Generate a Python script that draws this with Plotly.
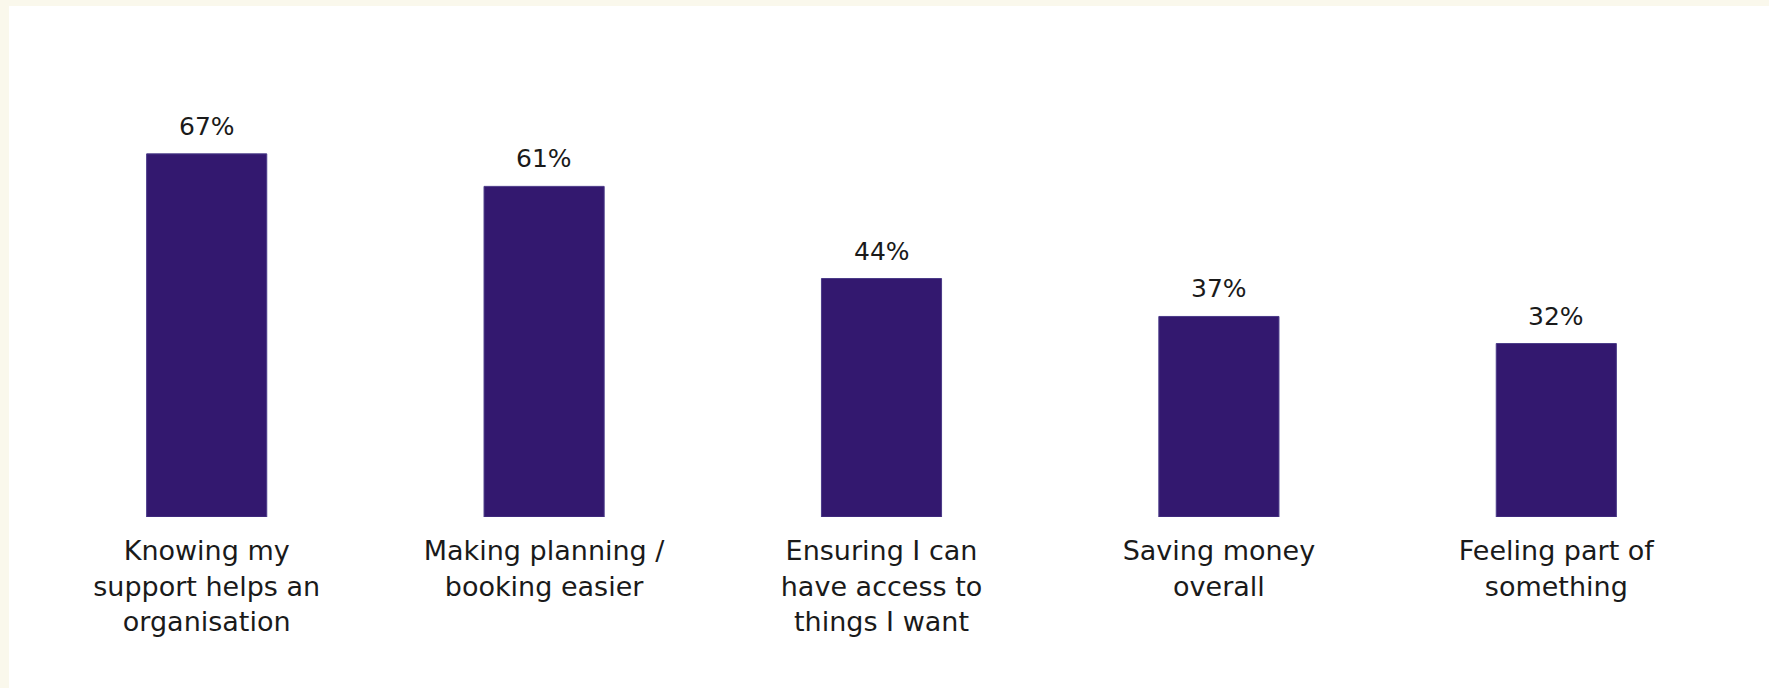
import plotly.graph_objects as go

categories = [
    "Knowing my<br>support helps an<br>organisation",
    "Making planning /<br>booking easier",
    "Ensuring I can<br>have access to<br>things I want",
    "Saving money<br>overall",
    "Feeling part of<br>something",
]
values = [67, 61, 44, 37, 32]
value_labels = ["67%", "61%", "44%", "37%", "32%"]

W, H = 1769, 688
L, R, T, B = 38, 44, 60, 171
px_per_unit = 5.42
ymax = (H - T - B) / px_per_unit

font_family = "DejaVu Sans, Open Sans, sans-serif"
text_color = "#1a1a1a"

fig = go.Figure()
fig.add_trace(go.Bar(
    x=categories,
    y=values,
    width=0.356,
    marker=dict(color="#33186F", line=dict(color="#4A3A88", width=1)),
    hoverinfo="skip",
))

for c, v, lab in zip(categories, values, value_labels):
    fig.add_annotation(
        x=c, y=v, text=lab, showarrow=False,
        yanchor="bottom", yshift=11,
        font=dict(family=font_family, size=25, color=text_color),
    )

# cream frame (top and left border) drawn in paper space
plot_w = W - L - R
plot_h = H - T - B
def px_to_paper_x(px):
    return (px - L) / plot_w
def px_to_paper_y(py):
    return (H - B - py) / plot_h

fig.add_shape(type="rect", xref="paper", yref="paper", layer="below",
              x0=px_to_paper_x(0), x1=px_to_paper_x(W),
              y0=px_to_paper_y(H), y1=px_to_paper_y(0),
              fillcolor="#FAF8EC", line=dict(width=0))
fig.add_shape(type="rect", xref="paper", yref="paper", layer="below",
              x0=px_to_paper_x(9), x1=px_to_paper_x(W),
              y0=px_to_paper_y(H), y1=px_to_paper_y(6),
              fillcolor="#FFFFFF", line=dict(width=0))

fig.update_layout(
    width=W, height=H,
    margin=dict(l=L, r=R, t=T, b=B, pad=0),
    paper_bgcolor="#FFFFFF",
    plot_bgcolor="rgba(0,0,0,0)",
    showlegend=False,
    font=dict(family=font_family, size=27, color=text_color),
    bargap=0.644,
)
fig.update_xaxes(
    showgrid=False, zeroline=False, showline=False,
    ticks="outside", ticklen=10, tickcolor="rgba(0,0,0,0)",
    tickfont=dict(family=font_family, size=27, color=text_color),
    fixedrange=True,
)
fig.update_yaxes(
    range=[0, ymax], visible=False, showgrid=False, zeroline=False,
    fixedrange=True,
)

fig.write_html(
    "out.html",
    config={"displayModeBar": False},
    post_script="document.body.style.margin='0';document.body.style.overflow='hidden';",
)
